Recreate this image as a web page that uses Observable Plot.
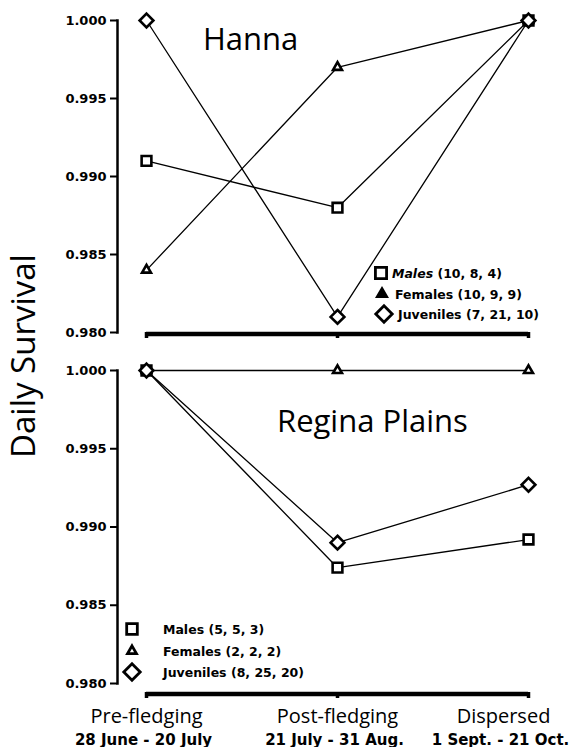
<!DOCTYPE html>
<html>
<head>
<meta charset="utf-8">
<script src="https://cdn.jsdelivr.net/npm/d3@7"></script>
<script src="https://cdn.jsdelivr.net/npm/@observablehq/plot@0.6"></script>
<style>
  html, body { margin: 0; padding: 0; background: #fff; }
  #wrap { position: relative; width: 573px; height: 747px; overflow: hidden; }
  #top, #bottom { position: absolute; left: 0; }
  #top { top: 0; }
  #bottom { top: 345px; }
  #overlay { position: absolute; left: 0; top: 0; pointer-events: none; }
</style>
</head>
<body>
<div id="wrap">
  <div id="top"></div>
  <div id="bottom"></div>
  <svg id="overlay" width="573" height="747"></svg>
</div>
<script>
// ---------- data ----------
const periods = ["Pre-fledging", "Post-fledging", "Dispersed"];
const periodDates = ["28 June - 20 July", "21 July - 31 Aug.", "1 Sept. - 21 Oct."];
const groups = ["Males", "Females", "Juveniles"];
const yTicks = [0.980, 0.985, 0.990, 0.995, 1.000];

const hannaMales     = [0.991, 0.988, 1.000];
const hannaFemales   = [0.984, 0.997, 1.000];
const hannaJuveniles = [1.000, 0.981, 1.000];
const hannaCounts    = ["(10, 8, 4)", "(10, 9, 9)", "(7, 21, 10)"];

const reginaMales     = [1.000, 0.9874, 0.9892];
const reginaFemales   = [1.000, 1.000, 1.000];
const reginaJuveniles = [1.000, 0.9890, 0.9927];
const reginaCounts    = ["(5, 5, 3)", "(2, 2, 2)", "(8, 25, 20)"];

const siteTitles = ["Hanna", "Regina Plains"];
const yLabel = "Daily Survival";

// ---------- styles ----------
const symbolOf = {Males: "square", Females: "triangle", Juveniles: "diamond2"};
const rOf = {Males: 5.5, Females: 3.3, Juveniles: 6.2};
const tickFont = "DejaVu Sans";

function rowsFor(m, f, j) {
  const rows = [];
  const series = {Males: m, Females: f, Juveniles: j};
  for (const g of groups) periods.forEach((p, i) => rows.push({group: g, period: p, value: series[g][i]}));
  return rows;
}

function labelMarks(sel, shift) {
  const data = periods.map((p, i) => ({p, date: periodDates[i], i})).filter(sel);
  return [
    Plot.text(data, {x: "p", text: "p", frameAnchor: "bottom", dy: 30, dx: shift, lineAnchor: "bottom",
      fontSize: 20, fontFamily: "Open Sans", fill: "#000"}),
    Plot.text(data, {x: "p", text: "date", frameAnchor: "bottom", dy: 52, dx: shift - 3, lineAnchor: "bottom",
      fontSize: 15, fontWeight: "bold", fontFamily: tickFont, fill: "#000"})
  ];
}

function panel(rows, opts) {
  const {height, marginTop, marginBottom, insetBottom, labels} = opts;
  const marks = [
    Plot.frame({anchor: "left", stroke: "#000", strokeWidth: 2.5, insetBottom}),
    Plot.axisY({ticks: yTicks, tickSize: 7, tickPadding: 4, strokeWidth: 2,
      tickFormat: d3.format(".3f"), fontSize: 13, fontWeight: "bold", fontFamily: tickFont, label: null}),
    Plot.ruleY([yTicks[0]], {x1: () => periods[0], x2: () => periods[periods.length - 1],
      dy: insetBottom + 1.5, stroke: "#000", strokeWidth: 4.5}),
    Plot.axisX({tickSize: 6, strokeWidth: 3.5, tickFormat: () => "", label: null}),
    Plot.line(rows, {x: "period", y: "value", z: "group", stroke: "#000", strokeWidth: 1.3}),
  ];
  for (const g of groups) {
    marks.push(Plot.dot(rows.filter(d => d.group === g), {x: "period", y: "value",
      symbol: () => symbolOf[g], r: rOf[g], fill: "#fff", stroke: "#000", strokeWidth: 2.6}));
  }
  if (labels) {
    marks.push(...labelMarks(d => d.i < periods.length - 1, 0));
    marks.push(...labelMarks(d => d.i === periods.length - 1, -25));
  }
  return Plot.plot({
    width: 573, height, marginLeft: 117, marginRight: 16, marginTop, marginBottom, insetBottom,
    style: {background: "transparent", overflow: "visible"},
    x: {type: "point", domain: periods, padding: 0.146, axis: null},
    y: {domain: [yTicks[0], yTicks[yTicks.length - 1]], axis: null},
    symbol: {type: "identity"},
    marks
  });
}

document.getElementById("top").append(panel(rowsFor(hannaMales, hannaFemales, hannaJuveniles),
  {height: 345, marginTop: 20, marginBottom: 13, insetBottom: 0, labels: false}));
document.getElementById("bottom").append(panel(rowsFor(reginaMales, reginaFemales, reginaJuveniles),
  {height: 402, marginTop: 25, marginBottom: 55, insetBottom: 9, labels: true}));

// ---------- annotations (titles, legends, y label) ----------
const ov = d3.select("#overlay");
ov.append("text").attr("x", 203).attr("y", 50).text(siteTitles[0])
  .attr("font-family", "Open Sans").attr("font-size", 31).attr("fill", "#000");
ov.append("text").attr("x", 277).attr("y", 432).text(siteTitles[1])
  .attr("font-family", "Open Sans").attr("font-size", 31).attr("fill", "#000");
ov.append("text").attr("transform", "translate(35,356) rotate(-90)").attr("text-anchor", "middle")
  .text(yLabel).attr("font-family", "Open Sans").attr("font-size", 33).attr("fill", "#000");

function legend(items, counts) {
  items.forEach((it, i) => {
    const g = groups[i];
    const size = Math.PI * it.r * it.r;
    const sym = {square: d3.symbolSquare, triangle: d3.symbolTriangle, diamond2: d3.symbolDiamond2}[symbolOf[g]];
    ov.append("path").attr("d", d3.symbol(sym, size)())
      .attr("transform", `translate(${it.sx},${it.sy})`)
      .attr("fill", it.fill || "#fff").attr("stroke", "#000").attr("stroke-width", 2.8)
      .attr("stroke-linejoin", "miter");
    const t = ov.append("text").attr("x", it.tx).attr("y", it.ty)
      .attr("font-family", tickFont).attr("font-weight", "bold").attr("font-size", 12.5).attr("fill", "#000");
    t.append("tspan").text(g).attr("font-style", it.italic ? "italic" : null);
    t.append("tspan").text(" " + counts[i]);
  });
}
legend([
  {sx: 381, sy: 273, r: 6.3, tx: 392, ty: 278, italic: true},
  {sx: 382, sy: 294, r: 3.4, tx: 395, ty: 299, fill: "#000"},
  {sx: 384, sy: 314, r: 7.4, tx: 398, ty: 319}
], hannaCounts);
legend([
  {sx: 132, sy: 629, r: 6.0, tx: 163, ty: 634},
  {sx: 132, sy: 651, r: 3.3, tx: 163, ty: 656},
  {sx: 132, sy: 672, r: 7.4, tx: 163, ty: 677}
], reginaCounts);
</script>
</body>
</html>
